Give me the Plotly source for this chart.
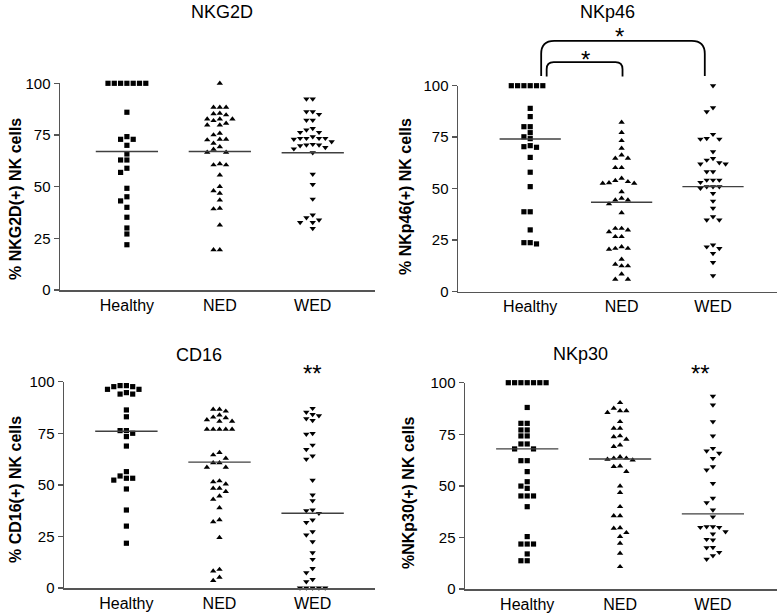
import plotly.graph_objects as go

W, H = 777, 615
groups = ["Healthy", "NED", "WED"]
symbols = ["square", "triangle-up", "triangle-down"]

# ---------------- data ----------------
nkg2d_healthy = [100, 100, 100, 100, 100, 100, 100, 86, 74.2, 72.9, 72.9, 70, 65.8, 62.9, 62.9,
                 58.9, 56.9, 49.2, 45.1, 43.1, 40, 35.2, 30, 27.1, 21.9]
nkg2d_ned = [100, 88.4, 88.4, 88.4, 85.5, 84.7, 85.2, 82.7, 81.9, 79.8, 79.8, 80.6, 82.7, 82.7,
             75, 75.8, 72.9, 72.9, 71, 72.6, 69.3, 68.1, 66.6, 66.6, 60.5, 60.5, 61, 55.6,
             50, 48, 46.8, 43.5, 39.2, 39.5, 31.4, 19.4, 19.4]
nkg2d_wed = [92.4, 92.4, 86.3, 85, 86.3, 82.2, 82.2, 77.4, 76.3, 76.3, 78.2, 73.4, 73.4, 73.4,
             73.4, 74.2, 73, 71.8, 70.2, 69.8, 70.2, 70.5, 68.3, 69, 66.4, 56, 51.1, 44,
             35, 33.9, 36.3, 32.7, 32.7, 29.8]
nkg2d_lines = [67, 67, 66.4]

nkp46_healthy = [100, 100, 100, 100, 100, 100, 89, 85, 80.1, 80.1, 77.2, 75.2, 74.3, 70.9, 70.1,
                 70.4, 65.2, 58, 51, 38.8, 38.8, 30, 23.8, 23.2, 23.8]
nkp46_ned = [82.2, 77.2, 73.3, 69.6, 66.3, 64.7, 64.7, 60.2, 60.2, 55, 52.9, 52.6, 52.6, 53.4,
             53.9, 48.5, 45.3, 44.5, 44.5, 42.6, 38.3, 30.7, 29.9, 30.7, 29.1, 26.7, 26.7,
             21, 20.6, 21, 21.8, 15.7, 12.5, 12.5, 13.3, 8.6, 6, 6]
nkp46_wed = [100, 87.4, 89.3, 76.4, 74.1, 74.1, 74.4, 68, 62.6, 63.9, 64.7, 62, 62, 58.3, 58.3,
             54.2, 54.2, 54.2, 53.1, 51, 50.2, 51, 51, 47.7, 44, 40.5, 36.4, 34.8, 34.8,
             22.7, 21, 21.8, 18.6, 14.2, 7.8]
nkp46_lines = [74.1, 43.4, 51]

cd16_healthy = [97.6, 96.3, 94.0, 94.0, 94.7, 96.3, 97.6, 98.1, 98.1, 86.3, 83, 76.3, 75, 76.3,
                73.4, 68.8, 56.4, 53.2, 52.3, 53.2, 54.3, 48, 37.8, 30, 21.7]
cd16_ned = [86.6, 86.6, 85.7, 83.8, 82.5, 80.8, 80.8, 81.5, 82.8, 76.9, 76.9, 76.9, 76.9, 76.9,
            64.5, 65.6, 62.9, 60.7, 60.7, 58.5, 58.5, 51.5, 50.4, 51.9, 48.3, 46.7, 48.3,
            44.6, 43, 38.9, 33, 32.1, 24.4, 9.0, 8.2, 3.6, 5.2]
cd16_wed = [87.1, 84.1, 82.1, 85.2, 83.5, 81.2, 74.6, 74.9, 69.3, 67.2, 62.4, 64, 52.3, 45.1,
            42.3, 37.5, 36.2, 37.8, 31.8, 33, 27.3, 25.7, 22.5, 17.1, 13.9, 7.4, 9.5, 4.2,
            3.1, 0, 0, 0, 0, 0]
cd16_lines = [76, 61, 36.2]

nkp30_healthy = [100, 100, 100, 100, 100, 100, 100, 88, 80.3, 80.3, 77.1, 77.1, 74.2, 74.2, 70.3,
                 70.3, 67.9, 67.9, 62.2, 62.2, 56.9, 52, 49.9, 48.8, 45.1, 45.1, 45.1, 39.9,
                 25.4, 21.8, 21.8, 21.8, 17, 13.7, 13.7]
nkp30_ned = [90.3, 86.4, 85.5, 86.4, 87.6, 81.1, 77.9, 77.9, 73.8, 72.6, 74.2, 69, 69.8, 63.4,
             62.9, 62.5, 63.4, 64.1, 59.6, 59.3, 56.9, 49.9, 46.7, 39.9, 35.5, 35.5, 27.3,
             29.4, 29.7, 25.4, 22.1, 17.3, 10.8]
nkp30_wed = [93.5, 89.2, 81.1, 74.2, 65.8, 66.9, 68.2, 63.3, 57.7, 59.3, 51.2, 41.8, 44, 38.3,
             35, 30.2, 29.9, 27.8, 29.9, 30.2, 26.7, 23.8, 24.1, 20, 20.2, 17.8, 16.2, 14.5]
nkp30_lines = [67.9, 63, 36.4]

titles = ["NKG2D", "NKp46", "CD16", "NKp30"]
ytitles = ["% NKG2D(+) NK cells", "% NKp46(+) NK cells", "% CD16(+) NK cells", "%NKp30(+) NK cells"]
yticks = [0, 25, 50, 75, 100]

panel_data = [
    ([nkg2d_healthy, nkg2d_ned, nkg2d_wed], nkg2d_lines),
    ([nkp46_healthy, nkp46_ned, nkp46_wed], nkp46_lines),
    ([cd16_healthy, cd16_ned, cd16_wed], cd16_lines),
    ([nkp30_healthy, nkp30_ned, nkp30_wed], nkp30_lines),
]

# ---------------- layout geometry (page pixels) ----------------
geom = [
    dict(x0=60, x1=375, y0=83.3, y1=290, xr=[-0.72, 2.67]),
    dict(x0=458, x1=777, y0=85.7, y1=291.7, xr=[-0.79, 2.70]),
    dict(x0=64, x1=375, y0=381.7, y1=588, xr=[-0.67, 2.67]),
    dict(x0=465, x1=777, y0=382.7, y1=589, xr=[-0.67, 2.69]),
]
title_pos = [(222, 12), (607, 12), (199, 355), (580, 354)]
ytitle_pos = [(16, 199), (405, 196), (15, 490), (408, 492)]

FONT = "Liberation Sans, Arial, Helvetica, sans-serif"
AXC = "#555555"


def px_to_paper(xp, yp):
    return xp / W, 1 - yp / H


def data_to_px(g, xv, yv):
    xp = g["x0"] + (xv - g["xr"][0]) / (g["xr"][1] - g["xr"][0]) * (g["x1"] - g["x0"])
    yp = g["y1"] - yv / 100.0 * (g["y1"] - g["y0"])
    return xp, yp


def swarm(values, ppx, ppy, step=6.3, hgt=5.6):
    order = sorted(range(len(values)), key=lambda i: -values[i])
    placed = []
    offs = [0.0] * len(values)
    cands = [0]
    for j in range(1, 25):
        cands += [-j, j]
    for i in order:
        y = values[i] * ppy
        xsel = 0.0
        for c in cands:
            x = c * step
            ok = True
            for (px, py) in placed:
                if abs(x - px) < step * 0.95 and abs(y - py) < hgt:
                    ok = False
                    break
            if ok:
                xsel = x
                break
        placed.append((xsel, y))
        offs[i] = xsel / ppx
    return offs


fig = go.Figure()
layout = dict(width=W, height=H, margin=dict(l=0, r=0, t=0, b=0, pad=0), autosize=False,
              paper_bgcolor="white", plot_bgcolor="white", showlegend=False,
              font=dict(family=FONT, color="black"))
annotations = []
shapes = []

for p, (g, (series, lines)) in enumerate(zip(geom, panel_data)):
    n = "" if p == 0 else str(p + 1)
    xa, ya = "x" + n, "y" + n
    ppx = (g["x1"] - g["x0"]) / (g["xr"][1] - g["xr"][0])
    ppy = (g["y1"] - g["y0"]) / 100.0
    for k, vals in enumerate(series):
        offs = swarm(vals, ppx, ppy)
        fig.add_trace(go.Scatter(
            x=[k + o for o in offs], y=vals, mode="markers", xaxis=xa, yaxis=ya,
            cliponaxis=False,
            marker=dict(symbol=symbols[k], size=5.2 if k == 0 else 5.6, color="black",
                        line=dict(width=0)),
            hoverinfo="skip"))
        fig.add_trace(go.Scatter(
            x=[k - 0.335, k + 0.335], y=[lines[k], lines[k]], mode="lines",
            xaxis=xa, yaxis=ya, line=dict(color="#404040", width=1.4), hoverinfo="skip"))
    x0p, y1p = px_to_paper(g["x0"], g["y1"])
    x1p, y0p = px_to_paper(g["x1"], g["y0"])
    layout["xaxis" + n] = dict(domain=[x0p, min(x1p, 1.0)], range=g["xr"], anchor=ya,
                               automargin=False,
                               showline=True, linecolor=AXC, linewidth=1.5, ticks="",
                               tickvals=[0, 1, 2], ticktext=groups, showgrid=False,
                               zeroline=False, tickfont=dict(size=16, family=FONT),
                               fixedrange=True)
    layout["yaxis" + n] = dict(domain=[y1p, y0p], range=[0, 100], anchor=xa,
                               automargin=False,
                               showline=True, linecolor=AXC, linewidth=1.5, ticks="outside",
                               ticklen=5, tickwidth=1.5, tickcolor=AXC, tickvals=yticks,
                               showgrid=False, zeroline=False,
                               tickfont=dict(size=15, family=FONT), fixedrange=True)
    tx, ty = px_to_paper(*title_pos[p])
    annotations.append(dict(text=titles[p], x=tx, y=ty, xref="paper", yref="paper",
                            showarrow=False, xanchor="center", yanchor="middle",
                            font=dict(size=18, family=FONT)))
    yx, yy = px_to_paper(*ytitle_pos[p])
    annotations.append(dict(text="<b>" + ytitles[p] + "</b>", x=yx, y=yy, xref="paper",
                            yref="paper", showarrow=False, textangle=-90,
                            xanchor="center", yanchor="middle",
                            font=dict(size=16, family=FONT)))


def star(g, xv, yv, txt):
    xp, yp = data_to_px(g, xv, yv)
    px, py = px_to_paper(xp, yp + 4)
    annotations.append(dict(text=txt, x=px, y=py, xref="paper", yref="paper",
                            showarrow=False, xanchor="center", yanchor="middle",
                            font=dict(size=24, family=FONT)))


def bracket(g, xa_, xb_, ybot, ytop, r):
    ax, by = data_to_px(g, xa_, ybot)
    bx, ty = data_to_px(g, xb_, ytop)
    pts = [("M", [(ax, by)]), ("L", [(ax, ty + r)]), ("Q", [(ax, ty), (ax + r, ty)]),
           ("L", [(bx - r, ty)]), ("Q", [(bx, ty), (bx, ty + r)]), ("L", [(bx, by)])]
    path = ""
    for cmd, ps in pts:
        path += cmd + " " + " ".join("%.5f,%.5f" % px_to_paper(x, y) for x, y in ps) + " "
    shapes.append(dict(type="path", path=path.strip(), xref="paper", yref="paper",
                       line=dict(color="black", width=1.8)))


g2 = geom[1]
bracket(g2, 0.18, 1.01, 104.5, 111.4, 7)
bracket(g2, 0.12, 1.91, 104.7, 121.8, 13)
star(g2, 0.6, 114.5, "*")
star(g2, 0.98, 126, "*")
star(geom[2], 2.0, 106, "**")
star(geom[3], 1.87, 106.5, "**")

layout["annotations"] = annotations
layout["shapes"] = shapes
fig.update_layout(**layout)
fig.write_html("out.html", config={"displayModeBar": False, "staticPlot": True},
               post_script="document.body.style.margin='0px';document.body.style.padding='0px';")
